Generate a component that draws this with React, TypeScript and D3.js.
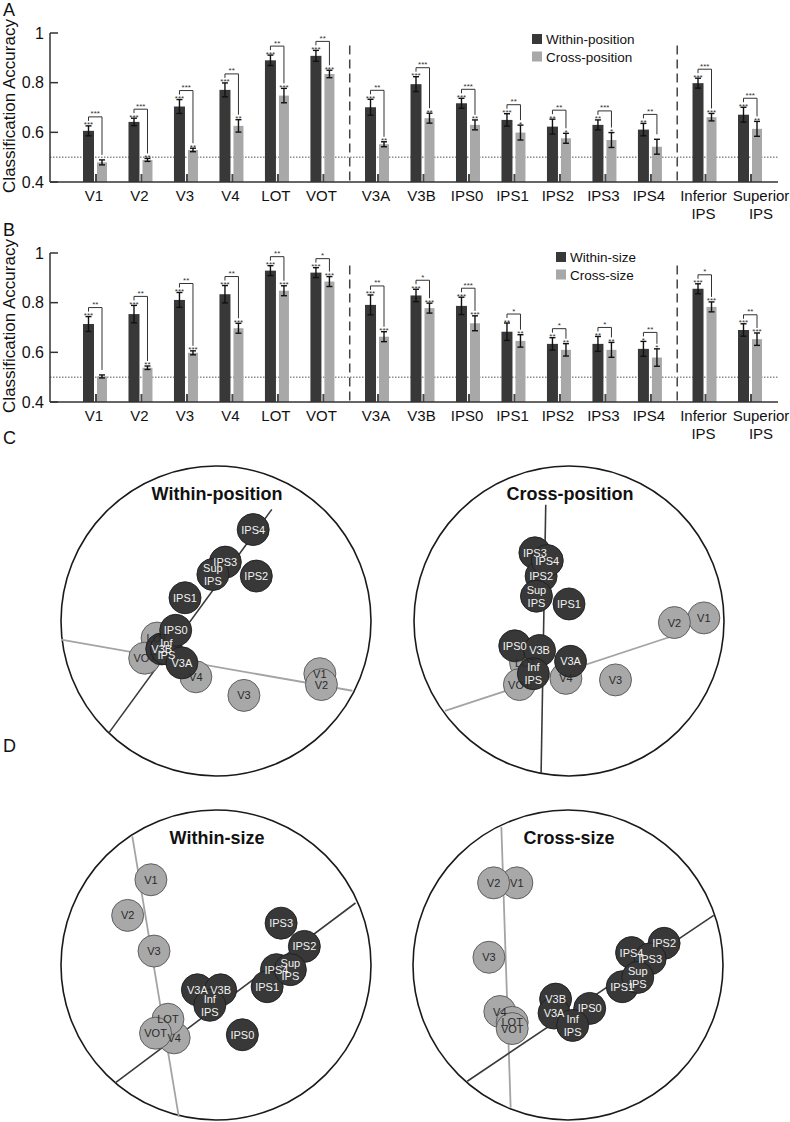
import React from "react";
import * as d3 from "d3";

const FONT = "'Liberation Sans', Arial, Helvetica, sans-serif";

// ---------- Bar chart data ----------
const categories = ["V1", "V2", "V3", "V4", "LOT", "VOT", "V3A", "V3B", "IPS0", "IPS1", "IPS2", "IPS3", "IPS4", "Inferior\nIPS", "Superior\nIPS"];
const yTicks = [0.4, 0.6, 0.8, 1];
const yTickLabels = ["0.4", "0.6", "0.8", "1"];

const withinPos = [0.606, 0.642, 0.704, 0.771, 0.890, 0.908, 0.701, 0.794, 0.717, 0.650, 0.623, 0.630, 0.611, 0.798, 0.671];
const withinPosErr = [0.02, 0.015, 0.028, 0.028, 0.021, 0.022, 0.032, 0.03, 0.02, 0.025, 0.03, 0.02, 0.025, 0.02, 0.03];
const crossPos = [0.479, 0.489, 0.529, 0.626, 0.748, 0.835, 0.552, 0.657, 0.630, 0.599, 0.576, 0.569, 0.542, 0.661, 0.614];
const crossPosErr = [0.01, 0.006, 0.007, 0.025, 0.029, 0.015, 0.01, 0.02, 0.02, 0.03, 0.02, 0.03, 0.03, 0.015, 0.03];
const starsWithinPos = ["***", "***", "***", "***", "***", "***", "***", "***", "***", "***", "**", "**", "**", "***", "***"];
const starsCrossPos = ["", "**", "**", "**", "***", "***", "**", "**", "**", "*", "*", "*", "", "***", "**"];
const starsPairPos = ["***", "***", "***", "**", "**", "**", "**", "***", "***", "**", "**", "***", "**", "***", "***"];

const withinSize = [0.714, 0.754, 0.811, 0.834, 0.929, 0.921, 0.791, 0.829, 0.787, 0.683, 0.634, 0.634, 0.614, 0.856, 0.690];
const withinSizeErr = [0.03, 0.035, 0.03, 0.035, 0.02, 0.02, 0.04, 0.025, 0.035, 0.035, 0.025, 0.03, 0.03, 0.02, 0.025];
const crossSize = [0.503, 0.538, 0.598, 0.697, 0.848, 0.885, 0.663, 0.778, 0.717, 0.646, 0.610, 0.610, 0.579, 0.783, 0.653];
const crossSizeErr = [0.006, 0.007, 0.008, 0.02, 0.02, 0.02, 0.02, 0.02, 0.03, 0.025, 0.025, 0.03, 0.035, 0.02, 0.025];
const starsWithinSize = ["***", "***", "***", "***", "***", "***", "***", "***", "***", "**", "**", "**", "*", "***", "***"];
const starsCrossSize = ["", "**", "***", "***", "***", "***", "***", "***", "***", "**", "**", "**", "*", "***", "***"];
const starsPairSize = ["**", "**", "**", "**", "**", "*", "**", "*", "***", "*", "*", "*", "**", "*", "**"];

// ---------- MDS data (unit-circle coordinates) ----------
const earlyAreas = new Set(["V1", "V2", "V3", "V4", "LOT", "VOT"]);

const mdsWithinPos: [string, number, number][] = [
  ["V3", 0.18, -0.48], ["V4", -0.13, -0.36], ["LOT", -0.38, -0.11], ["VOT", -0.46, -0.24], ["V1", 0.67, -0.34], ["V2", 0.68, -0.41],
  ["IPS4", 0.24, 0.59], ["IPS2", 0.26, 0.29], ["IPS3", 0.06, 0.38], ["Sup IPS", -0.02, 0.30], ["IPS1", -0.20, 0.15],
  ["V3B", -0.35, -0.18], ["Inf IPS", -0.32, -0.18], ["IPS0", -0.26, -0.06], ["V3A", -0.22, -0.27],
];
const axesWithinPos = { gray: [[-1.0, -0.12], [0.88, -0.45]], dark: [[0.36, 0.72], [-0.69, -0.72]] };

const mdsCrossPos: [string, number, number][] = [
  ["V3", 0.30, -0.38], ["V4", -0.02, -0.37], ["LOT", -0.28, -0.27], ["VOT", -0.32, -0.41], ["V1", 0.87, 0.02], ["V2", 0.68, -0.01],
  ["IPS3", -0.22, 0.44], ["IPS2", -0.18, 0.29], ["IPS4", -0.14, 0.39], ["Sup IPS", -0.21, 0.16], ["IPS1", 0.0, 0.11],
  ["IPS0", -0.35, -0.16], ["V3B", -0.19, -0.19], ["Inf IPS", -0.23, -0.34], ["V3A", 0.01, -0.26],
];
const axesCrossPos = { gray: [[-0.80, -0.58], [0.66, -0.10]], dark: [[-0.15, 0.75], [-0.18, -0.98]] };

const mdsWithinSize: [string, number, number][] = [
  ["V1", -0.42, 0.55], ["V2", -0.57, 0.32], ["V3", -0.40, 0.09], ["V4", -0.27, -0.47], ["LOT", -0.31, -0.35], ["VOT", -0.39, -0.44],
  ["IPS3", 0.42, 0.27], ["IPS2", 0.57, 0.12], ["IPS4", 0.39, -0.03], ["IPS1", 0.33, -0.14], ["Sup IPS", 0.48, -0.03],
  ["IPS0", 0.17, -0.45], ["V3A", -0.12, -0.16], ["V3B", 0.03, -0.16], ["Inf IPS", -0.04, -0.26],
];
const axesWithinSize = { gray: [[-0.54, 0.83], [-0.24, -0.98]], dark: [[0.90, 0.40], [-0.65, -0.76]] };

const mdsCrossSize: [string, number, number][] = [
  ["V1", -0.33, 0.53], ["V2", -0.48, 0.53], ["V3", -0.51, 0.05], ["V4", -0.44, -0.30], ["LOT", -0.36, -0.37], ["VOT", -0.36, -0.41],
  ["IPS2", 0.62, 0.14], ["IPS4", 0.41, 0.08], ["IPS3", 0.53, 0.04], ["IPS1", 0.35, -0.14], ["Sup IPS", 0.45, -0.08],
  ["V3B", -0.08, -0.22], ["V3A", -0.09, -0.31], ["IPS0", 0.14, -0.28], ["Inf IPS", 0.03, -0.39],
];
const axesCrossSize = { gray: [[-0.43, 0.89], [-0.37, -0.92]], dark: [[0.94, 0.32], [-0.65, -0.75]] };

const DARK = "#383838";
const LIGHT = "#a8a8a8";

function catPos(i: number) {
  return i + (i >= 6 ? 0.2 : 0) + (i >= 13 ? 0.2 : 0);
}
// horizontal nudge of the last category label (it is set slightly right of its bars)
function labelNudge(i: number) {
  return i === 14 ? 11 : -1;
}

function BarPanel(props: any) {
  const { base, letter, within, withinErr, cross, crossErr, sW, sC, sP, legend, legendX, legendY } = props;
  const y = d3.scaleLinear().domain([0.4, 1]).range([base, base - 149]);
  const x = d3.scaleLinear().domain([0, 14.4]).range([95, 750]);
  const axisL = 50, axisR = 778;
  const sepPositions = [(catPos(5) + catPos(6)) / 2, (catPos(12) + catPos(13)) / 2];
  return (
    <g fontFamily={FONT}>
      <text x={3} y={base - 166} fontSize={18} fill="#111">{letter}</text>
      <text transform={`translate(15,${base - 76}) rotate(-90)`} textAnchor="middle" fontSize={17} fill="#111">Classification Accuracy</text>
      {/* chance */}
      <line x1={axisL} x2={axisR} y1={y(0.5)} y2={y(0.5)} stroke="#555" strokeWidth={1} strokeDasharray="1.5,1.5" />
      {sepPositions.map((p, k) => (
        <line key={k} x1={x(p)} x2={x(p)} y1={y(0.95)} y2={y(0.4)} stroke="#444" strokeWidth={1.5} strokeDasharray="9,5" />
      ))}
      {categories.map((c, i) => {
        const cx = x(catPos(i));
        const dC = cx - 6.5, lC = cx + 7;
        const dTop = within[i] + withinErr[i];
        const lTop = cross[i] + crossErr[i];
        const bY = Math.min(y(dTop), y(lTop)) - 9;
        return (
          <g key={c}>
            <rect x={cx - 12} y={y(within[i])} width={11} height={y(0.4) - y(within[i])} fill={DARK} />
            <rect x={cx + 2} y={y(cross[i])} width={10} height={y(0.4) - y(cross[i])} fill={LIGHT} />
            <rect x={cx} y={y(0.4) - 8} width={2} height={8} fill="#4a4a4a" />
            {[[dC, within[i], withinErr[i]], [lC, cross[i], crossErr[i]]].map(([bx, v, e], k) => (
              <g key={k} stroke="#111" strokeWidth={1.4}>
                <line x1={bx} x2={bx} y1={y(v - e)} y2={y(v + e)} />
                <line x1={bx - 3} x2={bx + 3} y1={y(v - e)} y2={y(v - e)} />
                <line x1={bx - 3} x2={bx + 3} y1={y(v + e)} y2={y(v + e)} />
              </g>
            ))}
            <text x={dC} y={y(dTop) + 1.5} fontSize={8} textAnchor="middle" fill="#333">{sW[i]}</text>
            <text x={lC} y={y(lTop) + 1.5} fontSize={8} textAnchor="middle" fill="#333">{sC[i]}</text>
            <path d={`M${dC},${y(dTop) - 5}V${bY}H${lC}V${y(lTop) - 5}`} fill="none" stroke="#333" strokeWidth={1} />
            <text x={(dC + lC) / 2} y={bY - 0.5} fontSize={8} textAnchor="middle" fill="#333">{sP[i]}</text>
            {c.split("\n").map((t, k) => (
              <text key={k} x={cx + labelNudge(i)} y={base + 19 + k * 18} fontSize={15} textAnchor="middle" fill="#111">{t}</text>
            ))}
          </g>
        );
      })}
      {/* axes */}
      <line x1={axisL} x2={axisR} y1={base} y2={base} stroke="#333" strokeWidth={1.5} />
      <line x1={axisL} x2={axisL} y1={y(1)} y2={base} stroke="#333" strokeWidth={1.5} />
      {yTicks.map((t, k) => (
        <g key={t}>
          <line x1={axisL} x2={axisL + 8} y1={y(t)} y2={y(t)} stroke="#333" strokeWidth={1.5} />
          <text x={44} y={y(t) + 5.5} fontSize={16} textAnchor="end" fill="#111">{yTickLabels[k]}</text>
        </g>
      ))}
      {/* legend */}
      {legend.map((l: string, k: number) => (
        <g key={l}>
          <rect x={legendX} y={legendY + k * 17.5} width={10} height={10} fill={k === 0 ? DARK : LIGHT} />
          <text x={legendX + 14} y={legendY + 10 + k * 17.5} fontSize={13.5} fill="#111">{l}</text>
        </g>
      ))}
    </g>
  );
}

function MdsPanel(props: any) {
  const { cx, cy, title, points, axes } = props;
  const R = 155, r = 16;
  const sx = d3.scaleLinear().domain([-1, 1]).range([cx - R, cx + R]);
  const sy = d3.scaleLinear().domain([-1, 1]).range([cy + R, cy - R]);
  const light = points.filter((p: any) => earlyAreas.has(p[0]));
  const dark = points.filter((p: any) => !earlyAreas.has(p[0]));
  const ordered = [...light, ...dark];
  return (
    <g fontFamily={FONT}>
      <circle cx={cx} cy={cy} r={R} fill="none" stroke="#1a1a1a" strokeWidth={1.6} />
      <text x={cx + 1} y={cy - 121} textAnchor="middle" fontSize={18} fontWeight="bold" fill="#111">{title}</text>
      <line x1={sx(axes.gray[0][0])} y1={sy(axes.gray[0][1])} x2={sx(axes.gray[1][0])} y2={sy(axes.gray[1][1])} stroke="#a4a4a4" strokeWidth={1.8} />
      <line x1={sx(axes.dark[0][0])} y1={sy(axes.dark[0][1])} x2={sx(axes.dark[1][0])} y2={sy(axes.dark[1][1])} stroke="#3a3a3a" strokeWidth={1.6} />
      {ordered.map((p: any) => {
        const isLight = earlyAreas.has(p[0]);
        return (
          <circle key={p[0]} cx={sx(p[1])} cy={sy(p[2])} r={r} fill={isLight ? LIGHT : DARK} stroke={isLight ? "#555" : "#1e1e1e"} strokeWidth={0.9} />
        );
      })}
      {ordered.map((p: any) => {
        const isLight = earlyAreas.has(p[0]);
        const lines = p[0].split(" ");
        return (
          <g key={p[0]}>
            {lines.map((t: string, k: number) => (
              <text key={k} x={sx(p[1])} y={sy(p[2]) + 4 + (k - (lines.length - 1) / 2) * 12.6} textAnchor="middle" fontSize={11}
                fill={isLight ? "#2a2a2a" : "#f2f2f2"}>{t}</text>
            ))}
          </g>
        );
      })}
    </g>
  );
}

export default function App() {
  return (
    <svg width={790} height={1122} style={{ position: "absolute", left: 0, top: 0, background: "#fff" }}>
      <BarPanel base={182} letter="A" within={withinPos} withinErr={withinPosErr} cross={crossPos} crossErr={crossPosErr}
        sW={starsWithinPos} sC={starsCrossPos} sP={starsPairPos} legend={["Within-position", "Cross-position"]} legendX={532} legendY={34} />
      <BarPanel base={402} letter="B" within={withinSize} withinErr={withinSizeErr} cross={crossSize} crossErr={crossSizeErr}
        sW={starsWithinSize} sC={starsCrossSize} sP={starsPairSize} legend={["Within-size", "Cross-size"]} legendX={556} legendY={252} />
      <text x={3} y={444} fontSize={18} fontFamily={FONT} fill="#111">C</text>
      <text x={3} y={752} fontSize={18} fontFamily={FONT} fill="#111">D</text>
      <MdsPanel cx={216} cy={621} title="Within-position" points={mdsWithinPos} axes={axesWithinPos} />
      <MdsPanel cx={569} cy={621} title="Cross-position" points={mdsCrossPos} axes={axesCrossPos} />
      <MdsPanel cx={216} cy={965} title="Within-size" points={mdsWithinSize} axes={axesWithinSize} />
      <MdsPanel cx={568} cy={965} title="Cross-size" points={mdsCrossSize} axes={axesCrossSize} />
    </svg>
  );
}
